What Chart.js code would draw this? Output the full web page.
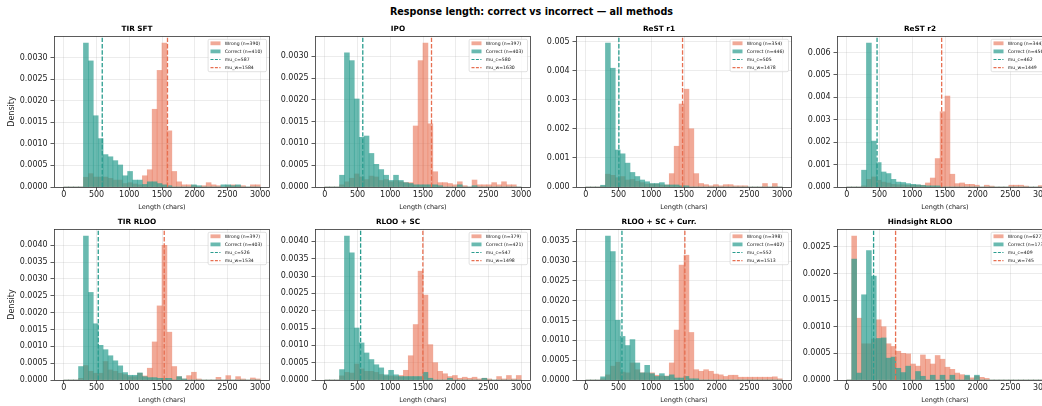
<!DOCTYPE html>
<html>
<head>
<meta charset="utf-8">
<script src="https://cdn.jsdelivr.net/npm/chart.js@4.4.0/dist/chart.umd.min.js"></script>
<style>
  html, body { margin: 0; padding: 0; background: #fff; width: 1042px; height: 406px; overflow: hidden; }
  body { position: relative; font-family: 'DejaVu Sans', sans-serif; }
  #suptitle { position: absolute; left: 0; width: 1063px; top: 6px; line-height: 12px; text-align: center;
              font-weight: bold; font-size: 9.6px; color: #000; white-space: nowrap; }
  canvas { position: absolute; }
</style>
</head>
<body>
<div id="suptitle">Response length: correct vs incorrect — all methods</div>
<script>
// histogram bins: 40 bins of 75 chars over 0..3000
var binCenters = [37.5, 112.5, 187.5, 262.5, 337.5, 412.5, 487.5, 562.5, 637.5, 712.5,
  787.5, 862.5, 937.5, 1012.5, 1087.5, 1162.5, 1237.5, 1312.5, 1387.5, 1462.5,
  1537.5, 1612.5, 1687.5, 1762.5, 1837.5, 1912.5, 1987.5, 2062.5, 2137.5, 2212.5,
  2287.5, 2362.5, 2437.5, 2512.5, 2587.5, 2662.5, 2737.5, 2812.5, 2887.5, 2962.5];

var methods = ['TIR SFT', 'IPO', 'ReST r1', 'ReST r2', 'TIR RLOO', 'RLOO + SC', 'RLOO + SC + Curr.', 'Hindsight RLOO'];
var nWrong   = [390, 397, 354, 344, 397, 379, 398, 627];
var nCorrect = [410, 403, 446, 456, 403, 421, 402, 173];
var muCorrect = [587, 580, 505, 462, 526, 547, 552, 409];
var muWrong   = [1584, 1630, 1478, 1449, 1534, 1498, 1513, 745];
var xTicks = [0, 500, 1000, 1500, 2000, 2500, 3000];
var yTickStep = [0.0005, 0.0005, 0.001, 0.001, 0.0005, 0.0005, 0.0005, 0.0005];

// density per bin
var tirSftCorrect = [0,0,0,0,.00333,.00292,.00165,.00112,.00075,.0007,.00061,.00051,.00026,.00036,.00016,.00016,.00006,.00012,.00012,.00008,
  .00005,.00003,0,0,0,0,.00005,.00003,0,0,0,0,.00005,.00005,.00003,.00005,0,0,0,0];
var tirSftWrong = [0,0,0,0,.000225,.00031,.00023,.00023,.00023,.0002,.00016,.00016,.00008,.0001,.00007,.00005,.00026,.0004,.0018,.0027,
  .00333,.0013,.00036,.00012,.00005,.00005,.00003,0,.00003,.0001,.00005,.00003,0,.00003,.00005,.00003,.00003,0,.00005,.00005];

var ipoCorrect = [0,0,0,.00027,.00308,.0029,.00202,.00114,.00117,.00077,.00052,.0004,.00027,.00015,.00027,.00015,.0001,.00008,.00005,.00005,
  .00005,.00005,.00005,.00003,0,0,0,.00005,0,0,.00003,0,0,0,0,0,0,0,0,0];
var ipoWrong = [0,0,0,.00005,.00012,.0002,.0003,.00023,.00017,.00025,.00023,.00015,.00017,.00012,.00015,.00012,.0001,.0001,.0014,.0029,
  .0033,.00145,.00035,.0001,.0001,.00008,.00005,.00012,.00003,0,.00016,.00005,.00005,.00005,.0001,.00005,.00012,.00005,.00005,0];

var restR1Correct = [0,0,0,.00006,.00494,.00408,.00127,.00114,.00082,.0005,.00036,.00024,.00018,.00012,.00012,.00015,.00007,.00007,.00007,.00004,
  .00004,0,0,0,0,0,0,0,0,0,0,0,0,0,0,0,0,0,0,0];
var restR1Wrong = [0,0,0,.00003,.00044,.0004,.00032,.00036,.00024,.00026,.0002,.00015,.0001,.0001,.0001,.00007,.00007,.00046,.0014,.00285,
  .00336,.002,.00046,.00012,.00008,.00004,.00008,.00004,.00008,.00008,.00004,.00004,.00004,0,0,0,.00012,0,.00012,0];

var restR2Correct = [0,0,0,.00075,.00642,.00205,.00109,.00067,.0006,.00034,.00022,.0002,.00015,.00012,.0001,.00007,.00005,.00005,.00005,0,
  0,0,0,0,0,0,0,0,0,0,0,0,0,0,0,0,0,0,0,0];
var restR2Wrong = [0,0,0,.00005,.00034,.00045,.0003,.00022,.00018,.00012,.0001,.0001,.00008,.00008,.00008,.00008,.00018,.0004,.00127,.00336,
  .00406,.00057,.00015,.00018,.00012,.00012,.00008,0,.00008,.00004,0,0,0,.00008,.00008,.00008,.00004,0,0,.00006];

var tirRlooCorrect = [0,0,0,.0004,.00427,.0026,.00167,.00103,.0009,.00072,.00057,.00042,.00022,.00014,.00014,.00021,.0001,.00007,.00007,.00005,
  .00005,.00005,0,.0001,.00003,0,0,0,0,0,0,0,0,0,0,0,0,0,0,0];
var tirRlooWrong = [0,0,0,.00005,.00043,.00026,.0002,.0002,.00055,.0003,.00026,.0002,.00016,.0001,.0001,.0002,.00012,.00035,.00113,.0022,
  .004,.00142,.0004,.0001,.00003,.00013,.00023,.00003,0,0,0,.00008,0,.00013,0,.0001,.00003,0,.00006,.00003];

var rlooScCorrect = [0,0,0,.0003,.00415,.00367,.0015,.00107,.00078,.00059,.00044,.00035,.00015,.00028,.00015,.0001,.0001,.0001,.0001,.0001,
  .00022,.00005,0,0,0,.00005,0,0,0,0,0,0,.00005,0,0,0,0,0,0,0];
var rlooScWrong = [0,0,0,.00012,.00022,.0002,.00046,.00032,.00025,.00025,.00022,.00016,.00012,.00012,.0001,.00013,.00028,.0007,.0016,.00314,
  .00245,.00102,.0005,.00025,.00018,.0001,.00013,.00005,.00008,.00005,.00008,.00003,.00005,.00003,0,.0001,.00003,.00013,.00003,.00013];

var rlooScCurrCorrect = [0,0,0,.00008,.00363,.00324,.00151,.0011,.00087,.00102,.00043,.00018,.00037,.00016,.00009,.00016,.00009,.00013,.00005,.00005,
  .00009,.00003,.00003,0,0,0,0,0,0,0,0,0,0,0,0,0,0,0,0,0];
var rlooScCurrWrong = [0,0,0,.00003,.00013,.00035,.00045,.0002,.00018,.00043,.00026,.00018,.00018,.00018,.00012,.0001,.0001,.00043,.00126,.0029,
  .00315,.0012,.00026,.00022,.00026,.00022,.00015,.00013,.00009,.00012,.00012,.00007,.00007,.00007,.00007,.00007,.00007,.00007,.00008,.00003];

var hindsightCorrect = [0,.00227,.00013,.0016,.00243,.00195,.00078,.00079,.00041,.00043,.00022,.00014,.00026,0,.00016,.00007,0,.00009,0,.00009,
  0,.00009,0,0,.00009,0,.00009,0,0,0,0,0,0,0,0,0,0,0,0,0];
var hindsightWrong = [0,.0027,.00116,.00068,.00068,.00077,.00113,.001,.00068,.00063,.00054,.0005,.00049,.0003,.00026,.00047,.00039,.0003,.00046,.00039,
  .00024,.0002,.00013,.0001,.00007,.00004,.00007,.00005,.00003,0,0,0,0,0,0,0,0,0,0,0];

var correctSeries = [tirSftCorrect, ipoCorrect, restR1Correct, restR2Correct, tirRlooCorrect, rlooScCorrect, rlooScCurrCorrect, hindsightCorrect];
var wrongSeries = [tirSftWrong, ipoWrong, restR1Wrong, restR2Wrong, tirRlooWrong, rlooScWrong, rlooScCurrWrong, hindsightWrong];

var TEAL = '#2a9d8f', TEAL_FILL = 'rgba(42,157,143,0.7)';
var SALMON = '#e76f51', SALMON_FILL = 'rgba(231,111,81,0.6)';
var FONT = "'DejaVu Sans', sans-serif";
var GRID = 'rgba(176,176,176,0.3)';
var AX_LEFT = [54, 315, 576, 837], AX_TOP = [36, 229];

// top/right spines + small legend box inside the axes
var framePlugin = {
  id: 'frame',
  afterDraw: function(chart) {
    var a = chart.chartArea, ctx = chart.ctx, p = chart.options.plugins.frame;
    ctx.save();
    ctx.strokeStyle = '#333'; ctx.lineWidth = 0.8;
    ctx.strokeRect(Math.round(a.left) + 0.5, Math.round(a.top) + 0.5, Math.round(a.right - a.left) - 1, Math.round(a.bottom - a.top));
    // legend
    var bw = 58.4, bh = 32.4;
    var bx = a.right - 3.5 - bw, by = a.top + 3.3;
    ctx.beginPath();
    if (ctx.roundRect) ctx.roundRect(bx, by, bw, bh, 1.5); else ctx.rect(bx, by, bw, bh);
    ctx.fillStyle = 'rgba(255,255,255,0.8)'; ctx.fill();
    ctx.strokeStyle = '#cccccc'; ctx.lineWidth = 0.6; ctx.stroke();
    ctx.font = '4.6px ' + FONT; ctx.textBaseline = 'middle';
    p.items.forEach(function(it, k) {
      var cy = by + 4 + k * 8.1, hx = bx + 2.4;
      if (it.kind === 'patch') {
        ctx.fillStyle = it.color; ctx.fillRect(hx, cy - 1.9, 10, 3.8);
      } else {
        ctx.strokeStyle = it.color; ctx.lineWidth = 1.1; ctx.setLineDash([3, 1.4]);
        ctx.beginPath(); ctx.moveTo(hx, cy); ctx.lineTo(hx + 10, cy); ctx.stroke(); ctx.setLineDash([]);
      }
      ctx.fillStyle = '#111';
      ctx.fillText(it.text, hx + 14.3, cy);
    });
    ctx.restore();
  }
};

function makePanel(i) {
  var col = i % 4, row = Math.floor(i / 4);
  var axL = AX_LEFT[col], axT = AX_TOP[row];
  var cv = document.createElement('canvas');
  cv.width = 270; cv.height = 193;
  cv.style.left = (axL - 50) + 'px'; cv.style.top = (axT - 16) + 'px';
  document.body.appendChild(cv);

  var correct = correctSeries[i], wrong = wrongSeries[i];
  var yMax = Math.max.apply(null, correct.concat(wrong)) * 1.05;
  var step = yTickStep[i], dec = step < 0.001 ? 4 : 3;
  var yTicks = [];
  for (var k = 0; k * step <= yMax + 1e-12; k++) yTicks.push(k * step);

  var barCommon = { grouped: false, barPercentage: 1, categoryPercentage: 1, borderWidth: 0 };
  new Chart(cv.getContext('2d'), {
    type: 'bar',
    data: {
      datasets: [
        { type: 'line', label: 'mu_c', data: [{ x: muCorrect[i], y: 0 }, { x: muCorrect[i], y: yMax }],
          borderColor: TEAL, borderWidth: 1.3, borderDash: [4.4, 1.9], pointRadius: 0, fill: false, order: 0 },
        { type: 'line', label: 'mu_w', data: [{ x: muWrong[i], y: 0 }, { x: muWrong[i], y: yMax }],
          borderColor: SALMON, borderWidth: 1.3, borderDash: [4.4, 1.9], pointRadius: 0, fill: false, order: 0 },
        Object.assign({ label: 'Correct', data: binCenters.map(function(x, k) { return { x: x, y: correct[k] }; }),
          backgroundColor: TEAL_FILL, order: 1 }, barCommon),
        Object.assign({ label: 'Wrong', data: binCenters.map(function(x, k) { return { x: x, y: wrong[k] }; }),
          backgroundColor: SALMON_FILL, order: 2 }, barCommon)
      ]
    },
    options: {
      responsive: false, animation: false, devicePixelRatio: 1,
      layout: { padding: { left: 0, right: 4, top: 0, bottom: 0 } },
      plugins: {
        legend: { display: false }, tooltip: { enabled: false },
        title: { display: true, text: methods[i], color: '#000',
                 font: { family: FONT, size: 7.3, weight: 'bold' }, padding: { top: 4.5, bottom: 2.74 } },
        frame: { items: [
          { kind: 'patch', color: SALMON_FILL, text: 'Wrong (n=' + nWrong[i] + ')' },
          { kind: 'patch', color: TEAL_FILL, text: 'Correct (n=' + nCorrect[i] + ')' },
          { kind: 'line', color: TEAL, text: 'mu_c=' + muCorrect[i] },
          { kind: 'line', color: SALMON, text: 'mu_w=' + muWrong[i] }
        ] }
      },
      scales: {
        x: {
          type: 'linear', min: -150, max: 3150, offset: false,
          grid: { color: GRID, lineWidth: 0.8, offset: false, tickLength: 3.5, tickColor: '#333', tickWidth: 0.8 },
          border: { display: false },
          ticks: { font: { family: FONT, size: 8 }, color: '#222', padding: 0, maxRotation: 0, autoSkip: false,
                   callback: function(v) { return String(v); } },
          title: { display: true, text: 'Length (chars)', color: '#222', font: { family: FONT, size: 6.5 }, padding: { top: 0, bottom: 2.1 } },
          afterBuildTicks: function(s) { s.ticks = xTicks.map(function(v) { return { value: v }; }); },
          afterFit: function(s) { s.height = 26; }
        },
        y: {
          type: 'linear', min: 0, max: yMax,
          grid: { color: GRID, lineWidth: 0.8, tickLength: 3.5, tickColor: '#333', tickWidth: 0.8 },
          border: { display: false },
          ticks: { font: { family: FONT, size: 8 }, color: '#222', padding: 2.8,
                   callback: function(v) { return Number(v).toFixed(dec); } },
          title: { display: col === 0, text: 'Density', color: '#222', font: { family: FONT, size: 8 }, padding: { top: 3.2, bottom: 0 } },
          afterBuildTicks: function(s) { s.ticks = yTicks.map(function(v) { return { value: v }; }); },
          afterFit: function(s) { s.width = 50; }
        }
      }
    },
    plugins: [framePlugin]
  });
}

for (var i = 0; i < methods.length; i++) makePanel(i);
</script>
</body>
</html>
